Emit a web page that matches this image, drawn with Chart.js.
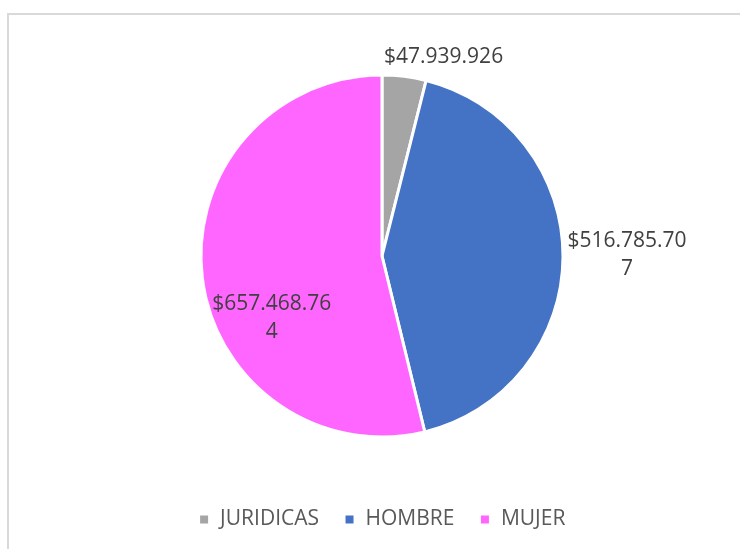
<!DOCTYPE html>
<html>
<head>
<meta charset="utf-8">
<script src="https://cdn.jsdelivr.net/npm/chart.js@4"></script>
<style>
  html, body { margin: 0; padding: 0; background: #fff; overflow: hidden; }
  body { width: 740px; height: 549px; position: relative; }
  #frame { position: absolute; left: 7px; top: 13px; right: -5px; bottom: -5px;
           border-top: 2px solid #d9d9d9; border-left: 2px solid #d9d9d9; }
  #wrap { position: absolute; left: 0; top: 0; width: 740px; height: 549px; }
</style>
</head>
<body>
<div id="frame"></div>
<div id="wrap"><canvas id="pieChart"></canvas></div>
<script>
// data
const categories = ['JURIDICAS', 'HOMBRE', 'MUJER'];
const amounts = [47939926, 516785707, 657468764];
const sliceColors = ['#A5A5A5', '#4472C4', '#FF66FF'];

// where each value label sits: distance from centre along the slice's middle, then a nudge
const labelPlacement = [
  { dist: 200, dx: 37, dy: -1 },
  { dist: 245, dx: 0, dy: -2 },
  { dist: 110, dx: -1, dy: 49 }
];

function money(v) {
  return '$' + v.toString().replace(/\B(?=(\d{3})+(?!\d))/g, '.');
}

// Excel wraps the long labels after 11 characters
function wrapLabel(s) {
  const lines = [];
  for (let i = 0; i < s.length; i += 11) lines.push(s.slice(i, i + 11));
  return lines;
}

const valueLabels = {
  id: 'valueLabels',
  afterDatasetsDraw(chart) {
    const ctx = chart.ctx;
    const meta = chart.getDatasetMeta(0);
    ctx.save();
    ctx.font = '21px "Open Sans"';
    ctx.fillStyle = '#404040';
    ctx.textAlign = 'center';
    ctx.textBaseline = 'middle';
    meta.data.forEach((arc, i) => {
      const p = arc.getProps(['x', 'y', 'startAngle', 'endAngle'], true);
      const mid = (p.startAngle + p.endAngle) / 2;
      const pl = labelPlacement[i];
      const cx = p.x + Math.cos(mid) * pl.dist + pl.dx;
      const cy = p.y + Math.sin(mid) * pl.dist + pl.dy;
      const lines = wrapLabel(money(amounts[i]));
      const lh = 28;
      lines.forEach((ln, j) => {
        ctx.fillText(ln, cx, cy - (lines.length - 1) * lh / 2 + j * lh);
      });
    });
    ctx.restore();
  }
};

new Chart(document.getElementById('pieChart'), {
  type: 'pie',
  data: {
    labels: categories,
    datasets: [{
      data: amounts,
      backgroundColor: sliceColors,
      borderColor: '#ffffff',
      borderWidth: 3,
      radius: 181
    }]
  },
  options: {
    responsive: true,
    maintainAspectRatio: false,
    animation: false,
    layout: { padding: { top: 28, left: 24, right: 0, bottom: 9 } },
    plugins: {
      legend: {
        position: 'bottom',
        labels: {
          boxWidth: 11,
          boxHeight: 11,
          padding: 25,
          color: '#595959',
          font: { family: '"Open Sans"', size: 21 }
        }
      },
      tooltip: { enabled: false }
    }
  },
  plugins: [valueLabels]
});
</script>
</body>
</html>
